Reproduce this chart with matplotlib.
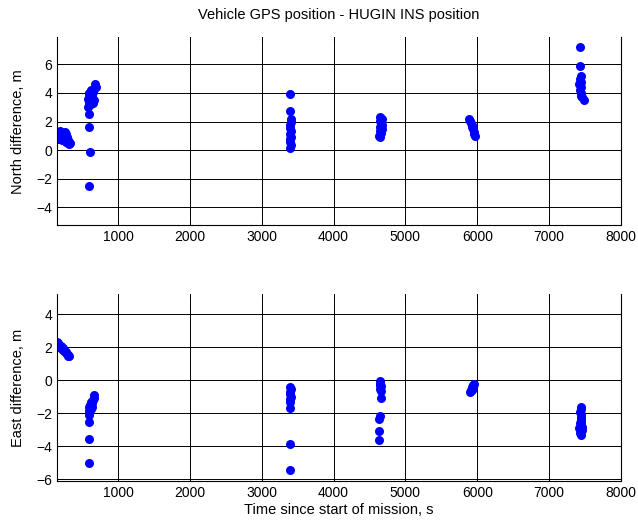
import numpy as np
import matplotlib
matplotlib.use("Agg")
import matplotlib.pyplot as plt

plt.rcParams['font.family'] = ['Liberation Sans', 'DejaVu Sans']

# GPS minus INS, north component (time s, difference m)
t_north = [150, 155, 160, 165, 170, 180, 190, 200, 210, 220, 230, 240, 250, 260, 270, 280, 290, 300, 310, 320, 330,
           600, 605, 600, 600, 585, 590, 580, 590, 600, 610, 620, 630, 640, 650, 660, 670, 680, 690, 600, 630, 650,
           3400, 3400, 3410, 3405, 3400, 3395, 3410, 3400, 3405, 3395, 3400, 3410, 3400,
           4650, 4670, 4640, 4660, 4680, 4650, 4670, 4640, 4660, 4630, 4640,
           5890, 5900, 5910, 5920, 5930, 5940, 5950, 5960, 5970,
           7430, 7430, 7440, 7430, 7450, 7420, 7440, 7430, 7450, 7440, 7460, 7480]
north = [1.2, 0.9, 1.1, 1.3, 0.8, 1.0, 1.35, 1.1, 0.9, 0.7, 1.2, 1.0, 0.8, 1.3, 1.1, 0.6, 0.9, 0.5, 0.7, 0.4, 0.5,
         -2.5, -0.1, 1.65, 2.5, 3.0, 3.3, 3.6, 3.9, 4.0, 3.7, 3.4, 3.2, 3.8, 4.1, 3.5, 4.3, 4.6, 4.4, 3.4, 4.2, 3.3,
         3.92, 2.73, 2.15, 1.95, 1.75, 1.55, 1.35, 1.15, 0.95, 0.75, 0.55, 0.35, 0.15,
         2.3, 2.2, 2.05, 1.9, 1.75, 1.6, 1.5, 1.35, 1.2, 1.0, 0.9,
         2.2, 2.05, 1.9, 1.75, 1.6, 1.45, 1.3, 1.15, 1.0,
         7.2, 5.9, 5.2, 5.0, 4.8, 4.6, 4.4, 4.2, 4.0, 3.8, 3.7, 3.5]

# east component
t_east = [150, 160, 170, 180, 190, 200, 210, 220, 230, 240, 250, 260, 270, 280, 290, 300, 310, 320,
          590, 590, 590, 590, 600, 600, 610, 620, 640, 650, 660, 670, 640, 620,
          3400, 3405, 3395, 3400, 3410, 3400, 3395, 3400, 3400, 3400,
          4640, 4650, 4660, 4650, 4660, 4640, 4660, 4640, 4630, 4630, 4630,
          5900, 5910, 5920, 5930, 5940, 5950, 5920, 5940,
          7440, 7440, 7430, 7440, 7450, 7440, 7430, 7450, 7440, 7420, 7460, 7440, 7430, 7450, 7440, 7460]
east = [2.3, 2.2, 2.25, 2.1, 2.0, 2.05, 1.95, 1.9, 1.95, 1.85, 1.8, 1.75, 1.7, 1.65, 1.6, 1.55, 1.5, 1.45,
        -5.0, -3.55, -2.55, -2.1, -1.85, -1.65, -1.5, -1.3, -1.6, -1.2, -1.05, -0.9, -1.4, -1.75,
        -0.4, -0.55, -0.7, -0.85, -1.0, -1.15, -1.3, -1.7, -3.85, -5.45,
        -0.05, -0.2, -0.35, -0.5, -0.65, -0.3, -1.05, -2.15, -2.35, -3.1, -3.6,
        -0.7, -0.6, -0.5, -0.4, -0.3, -0.2, -0.6, -0.35,
        -1.6, -1.75, -1.9, -2.05, -2.2, -2.4, -2.6, -2.7, -2.8, -2.9, -3.0, -3.1, -3.2, -3.3, -2.5, -2.85]

x_ticks = [1000, 2000, 3000, 4000, 5000, 6000, 7000, 8000]

fig = plt.figure(figsize=(6.38, 5.25), dpi=100)
ax1 = fig.add_axes([0.0893, 0.571, 0.884, 0.358])
ax2 = fig.add_axes([0.0893, 0.084, 0.884, 0.356])

for ax, t, d, ylim, yt, lab in [
        (ax1, t_north, north, (-5.24, 7.89), [-4, -2, 0, 2, 4, 6], 'North difference, m'),
        (ax2, t_east, east, (-6.1, 5.23), [-6, -4, -2, 0, 2, 4], 'East difference, m')]:
    ax.plot(t, d, 'o', color=(0, 0, 1), ms=6.5, mec='none')
    ax.set_xlim(150, 8000)
    ax.set_ylim(*ylim)
    ax.set_xticks(x_ticks)
    ax.set_yticks(yt)
    ax.grid(True, color='k', lw=0.7)
    ax.set_axisbelow(True)
    ax.tick_params(direction='in', length=4, labelsize=10, top=True, right=True, width=0.7)
    ax.set_ylabel(lab, fontsize=10.5, labelpad=8)
    ax.spines['top'].set_visible(False)
    for s in ['left', 'right', 'bottom']:
        ax.spines[s].set_linewidth(0.8)

ax1.set_title('Vehicle GPS position - HUGIN INS position', fontsize=10.5, pad=13)
ax2.set_xlabel('Time since start of mission, s', fontsize=10.5, labelpad=2)

fig.savefig('out.png', dpi=100)
